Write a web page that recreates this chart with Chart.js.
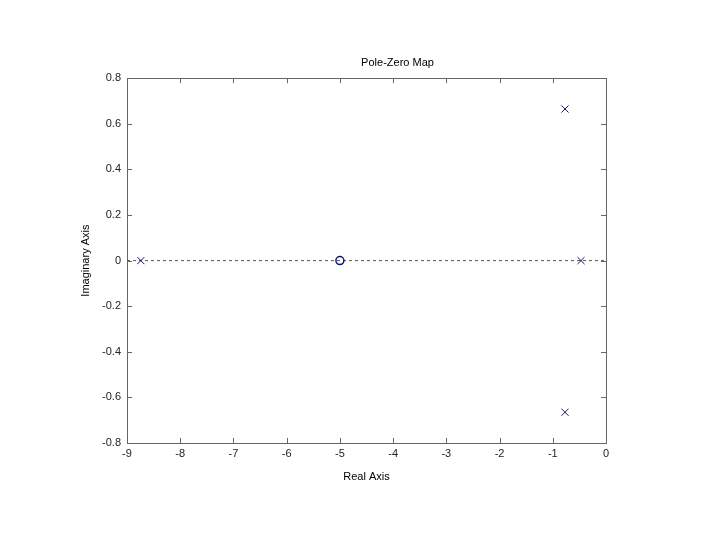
<!DOCTYPE html>
<html>
<head>
<meta charset="utf-8">
<title>Pole-Zero Map</title>
<script src="https://cdn.jsdelivr.net/npm/chart.js@4/dist/chart.umd.min.js"></script>
<style>
    html, body { margin: 0; padding: 0; background: #fff; }
    #pzmap { display: block; }
</style>
</head>
<body>
<canvas id="pzmap" width="720" height="540"></canvas>
<script>
// Pole / zero locations
const poleReal = [-8.74, -0.47, -0.77, -0.77];
const poleImag = [0, 0, 0.665, -0.665];
const zeroReal = [-5];
const zeroImag = [0];

// Dashed real-axis guide line
const guideReal = [-9, 0];
const guideImag = [0, 0];

// Axis ticks
const realTicks = [-9, -8, -7, -6, -5, -4, -3, -2, -1, 0];
const imagTicks = [-0.8, -0.6, -0.4, -0.2, 0, 0.2, 0.4, 0.6, 0.8];

const FONT = "'Liberation Sans', Arial, sans-serif";
const AXIS_COLOR = '#666666';
const MARK_COLOR = '#14146e';

function toPoints(xs, ys) {
    return xs.map((x, i) => ({ x: x, y: ys[i] }));
}

function fmtImag(v) {
    if (Math.abs(v) < 1e-9) return '0';
    return v.toFixed(1);
}

/**
 * MATLAB style inward tick marks on all four sides of the box
 */
const inwardTicks = {
    id: 'inwardTicks',
    afterDraw(chart) {
        const { ctx, chartArea: a, scales } = chart;
        const len = 5;
        ctx.save();
        ctx.strokeStyle = AXIS_COLOR;
        ctx.lineWidth = 1;
        ctx.beginPath();
        realTicks.forEach(v => {
            const px = Math.round(scales.x.getPixelForValue(v)) + 0.5;
            ctx.moveTo(px, a.bottom);
            ctx.lineTo(px, a.bottom - len);
            ctx.moveTo(px, a.top);
            ctx.lineTo(px, a.top + len);
        });
        imagTicks.forEach(v => {
            const py = Math.round(scales.y.getPixelForValue(v)) + 0.5;
            ctx.moveTo(a.left, py);
            ctx.lineTo(a.left + len, py);
            ctx.moveTo(a.right, py);
            ctx.lineTo(a.right - len, py);
        });
        ctx.stroke();
        ctx.restore();
    }
};

new Chart(document.getElementById('pzmap'), {
    type: 'scatter',
    data: {
        datasets: [{
            label: 'guide',
            type: 'line',
            data: toPoints(guideReal, guideImag),
            borderColor: '#555555',
            borderWidth: 1,
            borderDash: [3, 3],
            pointRadius: 0,
            fill: false,
            order: 3
        }, {
            label: 'Zeros',
            data: toPoints(zeroReal, zeroImag),
            pointStyle: 'circle',
            pointRadius: 4,
            pointBorderWidth: 1.5,
            borderColor: MARK_COLOR,
            backgroundColor: 'rgba(0,0,0,0)',
            order: 1
        }, {
            label: 'Poles',
            data: toPoints(poleReal, poleImag),
            pointStyle: 'crossRot',
            pointRadius: 5,
            pointBorderWidth: 1,
            borderColor: MARK_COLOR,
            backgroundColor: MARK_COLOR,
            order: 2
        }]
    },
    options: {
        responsive: false,
        animation: false,
        events: [],
        layout: {
            padding: { left: 75, right: 0, top: 0, bottom: 52 }
        },
        plugins: {
            legend: { display: false },
            tooltip: { enabled: false },
            title: {
                display: true,
                text: 'Pole-Zero Map',
                color: '#000',
                font: { family: FONT, size: 11, weight: 'normal' },
                padding: { top: 56, bottom: 1 }
            }
        },
        scales: {
            x: {
                type: 'linear',
                position: 'bottom',
                min: -9,
                max: 0,
                afterBuildTicks: s => { s.ticks = realTicks.map(v => ({ value: v })); },
                afterFit: s => { s.height = 540 - 52 - 443; },
                grid: { display: false, drawTicks: false },
                border: { display: true, color: AXIS_COLOR, width: 1 },
                ticks: {
                    color: '#222',
                    padding: 4,
                    maxRotation: 0,
                    font: { family: FONT, size: 11 }
                },
                title: {
                    display: true,
                    text: 'Real Axis',
                    color: '#000',
                    font: { family: FONT, size: 11 },
                    padding: { top: 4, bottom: 4 }
                }
            },
            x2: {
                type: 'linear',
                position: 'top',
                min: -9,
                max: 0,
                afterFit: s => { s.height = 8; },
                grid: { display: false, drawTicks: false },
                border: { display: true, color: AXIS_COLOR, width: 1 },
                ticks: { display: false }
            },
            y: {
                type: 'linear',
                position: 'left',
                min: -0.8,
                max: 0.8,
                afterBuildTicks: s => { s.ticks = imagTicks.map(v => ({ value: v })); },
                afterFit: s => { s.width = 127 - 75; },
                grid: { display: false, drawTicks: false },
                border: { display: true, color: AXIS_COLOR, width: 1 },
                ticks: {
                    color: '#222',
                    padding: 6,
                    font: { family: FONT, size: 11 },
                    callback: v => fmtImag(v)
                },
                title: {
                    display: true,
                    text: 'Imaginary Axis',
                    color: '#000',
                    font: { family: FONT, size: 11 },
                    padding: { top: 4, bottom: 4 }
                }
            },
            y2: {
                type: 'linear',
                position: 'right',
                min: -0.8,
                max: 0.8,
                afterFit: s => { s.width = 720 - 606; },
                grid: { display: false, drawTicks: false },
                border: { display: true, color: AXIS_COLOR, width: 1 },
                ticks: { display: false }
            }
        }
    },
    plugins: [inwardTicks]
});
</script>
</body>
</html>
